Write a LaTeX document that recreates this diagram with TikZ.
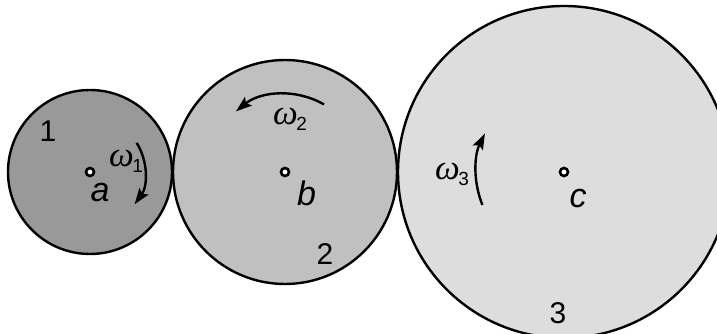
\documentclass[tikz,border=0pt]{standalone}
\usepackage{fontspec}
\setmainfont{Liberation Sans}
\newfontfamily\wfont{Liberation Serif}
\usetikzlibrary{arrows.meta}
\definecolor{gearA}{RGB}{153,153,153}
\definecolor{gearB}{RGB}{192,192,192}
\definecolor{gearC}{RGB}{221,221,221}
\newcommand\wlab[1]{{\wfont\itshape\fontsize{35}{35}\selectfont ω}\kern-1.5pt\raisebox{-6pt}{\fontsize{19}{19}\selectfont #1}}
\begin{document}
\begin{tikzpicture}[x=1pt,y=1pt,
  gear/.style={circle, draw=black, line width=2.4pt, inner sep=0pt, outer sep=0pt},
  pivot/.style={circle, draw=black, fill=white, line width=2.6pt, minimum size=8pt, inner sep=0pt},
  lbl/.style={font=\fontsize{34}{34}\selectfont\itshape, inner sep=0pt},
  num/.style={font=\fontsize{30}{30}\selectfont, inner sep=0pt},
  rot/.style={line width=2.4pt, -{Stealth[length=16pt,width=11pt,inset=3pt]}},
  wl/.style={anchor=base west, inner sep=0pt}]
\useasboundingbox (0,0) rectangle (717,334);
\clip (0,0) rectangle (717,334);
% gears
\node[gear, fill=gearA, minimum size=164pt] (g1) at (90,162) {};
\node[gear, fill=gearB, minimum size=224pt] (g2) at (285,162) {};
\node[gear, fill=gearC, minimum size=332pt] (g3) at (564,162) {};
% pivots
\node[pivot] (a) at (90,162) {};
\node[pivot] (b) at (285,162) {};
\node[pivot] (c) at (564,162) {};
% labels
\node[lbl] (la) at (100,141) {a};
\node[lbl] (lb) at (306.5,140.5) {b};
\node[lbl] (lc) at (578,135.5) {c};
\node[num] (n1) at (48,202.5) {1};
\node[num] (n2) at (325,80) {2};
\node[num] (n3) at (558,20.5) {3};
% angular velocity arrows
\draw[rot] ([shift={(32:55)}]a.center) arc[start angle=32, end angle=-36, radius=55];
\draw[rot] ([shift={(60:78)}]b.center) arc[start angle=60, end angle=129, radius=78];
\draw[rot] ([shift={(202:88)}]c.center) arc[start angle=202, end angle=154, radius=88];
\node[wl] (w1) at (109,167) {\wlab{1}};
\node[wl] (w2) at (273,209) {\wlab{2}};
\node[wl] (w3) at (435,154) {\wlab{3}};
\end{tikzpicture}
\end{document}
